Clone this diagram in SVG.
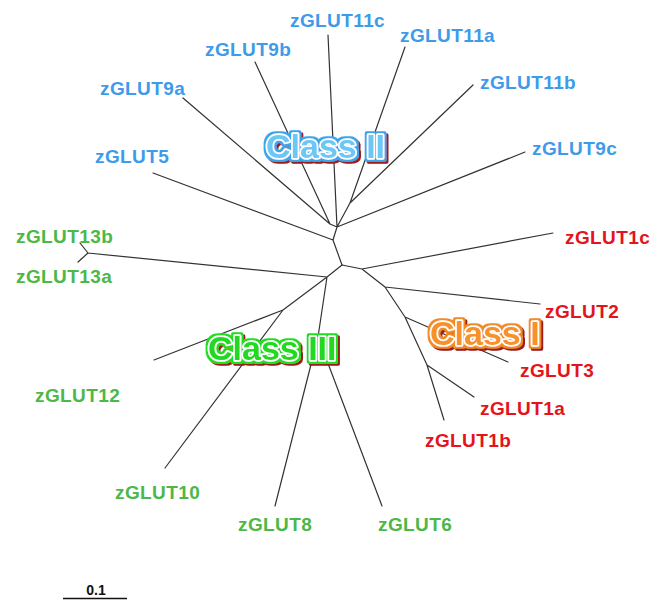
<svg xmlns="http://www.w3.org/2000/svg" width="662" height="600" viewBox="0 0 662 600">
<style>
.lbl{font-family:"Liberation Sans",Arial,sans-serif;font-weight:bold;font-size:19px;letter-spacing:0.4px}
.b{fill:#3d9be9}.r{fill:#e3141b}.g{fill:#4cb848}
.edge{stroke:#333;stroke-width:1.2;fill:none;stroke-linecap:round}
.cls{font-family:"Liberation Sans",Arial,sans-serif;font-weight:bold;font-size:34px;stroke:#fff;stroke-width:3.5;stroke-linejoin:round;paint-order:stroke}
</style>
<defs>
<filter id="fII" x="-10%" y="-30%" width="125%" height="170%">
<feMorphology in="SourceAlpha" operator="dilate" radius="2" result="d"/>
<feFlood flood-color="#3aa6ec" result="c"/>
<feComposite in="c" in2="d" operator="in" result="outer"/>
<feOffset in="d" dx="2" dy="2" result="so"/>
<feFlood flood-color="#9b1b1b"/>
<feComposite in2="so" operator="in" result="shadow"/>
<feMerge><feMergeNode in="shadow"/><feMergeNode in="outer"/><feMergeNode in="SourceGraphic"/></feMerge>
</filter>
<filter id="fIII" x="-10%" y="-30%" width="125%" height="170%">
<feMorphology in="SourceAlpha" operator="dilate" radius="2" result="d"/>
<feFlood flood-color="#1fe01f" result="c"/>
<feComposite in="c" in2="d" operator="in" result="outer"/>
<feOffset in="d" dx="2" dy="2" result="so"/>
<feFlood flood-color="#9b1b1b"/>
<feComposite in2="so" operator="in" result="shadow"/>
<feMerge><feMergeNode in="shadow"/><feMergeNode in="outer"/><feMergeNode in="SourceGraphic"/></feMerge>
</filter>
<filter id="fI" x="-10%" y="-30%" width="125%" height="170%">
<feMorphology in="SourceAlpha" operator="dilate" radius="2" result="d"/>
<feFlood flood-color="#f28a25" result="c"/>
<feComposite in="c" in2="d" operator="in" result="outer"/>
<feOffset in="d" dx="2" dy="2" result="so"/>
<feFlood flood-color="#9b1b1b"/>
<feComposite in2="so" operator="in" result="shadow"/>
<feMerge><feMergeNode in="shadow"/><feMergeNode in="outer"/><feMergeNode in="SourceGraphic"/></feMerge>
</filter>
</defs>
<rect width="662" height="600" fill="#fff"/>
<g id="connectors" class="edge">
<path d="M183,98 L330,224 M255,62 L330,224 M330,224 L337,227 M328,35 L337,227 M405,47 L350,203 M473,85 L350,203 M350,203 L337,227 M525,152 L337,227 M337,227 L333,240 M153,173 L333,240 M333,240 L342,265"/>
<path d="M342,265 L362,269 M362,269 L553,233 M362,269 L385,287 M385,287 L540,304 M385,287 L405,317 M405,317 L508,362 M405,317 L427,365 M427,365 L474,397 M427,365 L444,420"/>
<path d="M342,265 L327,277 M327,277 L88,253 M88,253 L80,243 M88,253 L78,262 M327,277 L283,310 M283,310 L154,360 M283,310 L165,468 M327,277 L318,337 M318,337 L275,506 M318,337 L382,506"/>
</g>
<g id="n-zGLUT11c"><text class="lbl b" x="290" y="27">zGLUT11c</text></g>
<g id="n-zGLUT11a"><text class="lbl b" x="400" y="42">zGLUT11a</text></g>
<g id="n-zGLUT9b"><text class="lbl b" x="205" y="56">zGLUT9b</text></g>
<g id="n-zGLUT9a"><text class="lbl b" x="100" y="95">zGLUT9a</text></g>
<g id="n-zGLUT11b"><text class="lbl b" x="480" y="89">zGLUT11b</text></g>
<g id="n-zGLUT5"><text class="lbl b" x="95" y="163">zGLUT5</text></g>
<g id="n-zGLUT9c"><text class="lbl b" x="532" y="155">zGLUT9c</text></g>
<g id="n-zGLUT13b"><text class="lbl g" x="16" y="243">zGLUT13b</text></g>
<g id="n-zGLUT13a"><text class="lbl g" x="16" y="283">zGLUT13a</text></g>
<g id="n-zGLUT1c"><text class="lbl r" x="565" y="244">zGLUT1c</text></g>
<g id="n-zGLUT2"><text class="lbl r" x="545" y="318">zGLUT2</text></g>
<g id="n-zGLUT3"><text class="lbl r" x="520" y="377">zGLUT3</text></g>
<g id="n-zGLUT1a"><text class="lbl r" x="480" y="415">zGLUT1a</text></g>
<g id="n-zGLUT1b"><text class="lbl r" x="425" y="447">zGLUT1b</text></g>
<g id="n-zGLUT12"><text class="lbl g" x="35" y="402">zGLUT12</text></g>
<g id="n-zGLUT10"><text class="lbl g" x="115" y="499">zGLUT10</text></g>
<g id="n-zGLUT8"><text class="lbl g" x="238" y="531">zGLUT8</text></g>
<g id="n-zGLUT6"><text class="lbl g" x="378" y="531">zGLUT6</text></g>
<g id="class-II"><text class="cls" x="266" y="158" fill="#6cc6f6" filter="url(#fII)">Class II</text></g>
<g id="class-III"><text class="cls" x="208" y="360" fill="#22d822" filter="url(#fIII)">Class III</text></g>
<g id="class-I"><text class="cls" x="430" y="345" fill="#f7922a" filter="url(#fI)">Class I</text></g>
<g id="scale-bar">
<text x="96" y="595" text-anchor="middle" font-family="'Liberation Sans',Arial,sans-serif" font-weight="bold" font-size="14" fill="#111">0.1</text>
<line x1="63" y1="598.5" x2="127" y2="598.5" stroke="#111" stroke-width="1.5"/>
</g>
</svg>
